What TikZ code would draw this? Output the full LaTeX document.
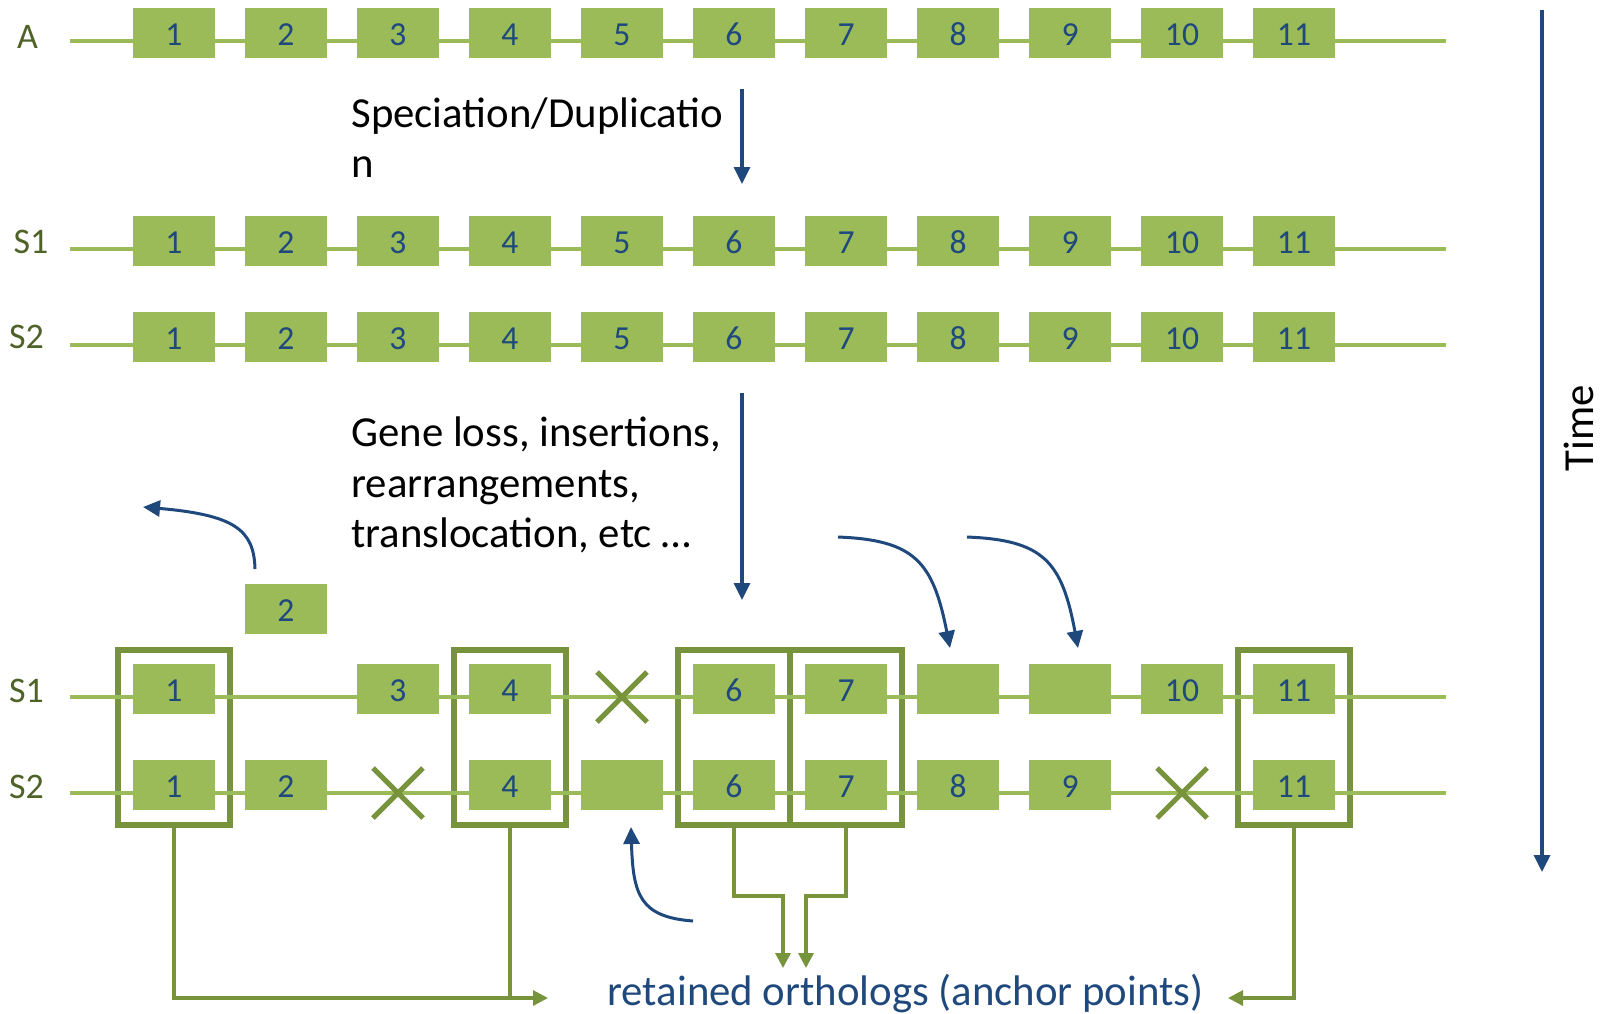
\documentclass[tikz,border=0pt]{standalone}
\usepackage{fontspec}
\setmainfont{Carlito}
\usetikzlibrary{arrows.meta,shapes.misc}

\definecolor{genefill}{RGB}{155,187,89}
\definecolor{framegreen}{RGB}{119,147,60}
\definecolor{numblue}{RGB}{31,73,125}
\definecolor{labelgreen}{RGB}{79,98,40}
\definecolor{arrowblue}{RGB}{31,73,125}

\begin{document}
\begin{tikzpicture}[x=0.5pt,y=-0.5pt,
  gene/.style={fill=genefill, minimum width=41pt, minimum height=25pt,
    inner sep=0pt, outer sep=0pt, text=numblue,
    font=\fontsize{16.8}{20}\selectfont, text height=12.8pt, text depth=0pt},
  chrom/.style={genefill, line width=2.2pt},
  pairframe/.style={draw=framegreen, line width=2.75pt, minimum width=56pt,
    minimum height=87.5pt, inner sep=0pt, outer sep=0pt},
  lostmark/.style={cross out, draw=framegreen, line width=2.5pt,
    minimum size=25pt, inner sep=0pt, outer sep=0pt},
  rowlabel/.style={text=labelgreen, font=\fontsize{18}{21}\selectfont,
    inner sep=0pt, anchor=base},
  note/.style={font=\fontsize{21.4}{25}\selectfont, inner sep=0pt, anchor=base west},
  event/.style={arrowblue, line width=1.6pt, -{Triangle[width=8pt,length=8.5pt]}},
  anchorlink/.style={framegreen, line width=1.6pt},
  anchorarrow/.style={anchorlink, -{Triangle[width=7.5pt,length=7.5pt]}},
]
\useasboundingbox (0,0) rectangle (1604,1013);

% ---------- ancestral genome A and the two copies S1, S2 ----------
\foreach \r/\y in {a/41, p/249, q/345} {
  \coordinate (\r L) at (70,\y);
  \coordinate (\r R) at (1446,\y);
  \draw[chrom] (\r L) -- (\r R);
  \foreach \i in {1,...,11}
    \node[gene] (\r\i) at ({174+112*(\i-1)},\y-8) {\i};
}

\node[rowlabel] (labA)  at (27.5,48) {A};
\node[rowlabel] (labS1) at (31,253) {S1};
\node[rowlabel] (labS2) at (26.5,348) {S2};

% ---------- speciation / duplication ----------
\node[note] (spec1) at (351,127) {Speciation/Duplicatio};
\node[note] (spec2) at (351,177) {n};
\coordinate (specTop) at (742,89);
\coordinate (specEnd) at (742,184);
\draw[event] (specTop) -- (specEnd);

% ---------- later events ----------
\node[note] (ev1) at (351,446) {Gene loss, insertions,};
\node[note] (ev2) at (351,497) {rearrangements,};
\node[note] (ev3) at (351,547) {translocation, etc \dots};
\coordinate (evTop) at (742,393);
\coordinate (evEnd) at (742,600);
\draw[event] (evTop) -- (evEnd);

% ---------- frames around retained orthologs ----------
\foreach \i in {1,4,6,7,11}
  \node[pairframe] (fr\i) at ({174+112*(\i-1)},737.5) {};

% ---------- evolved chromosomes ----------
\foreach \r/\y in {r/697, s/793} {
  \coordinate (\r L) at (70,\y);
  \coordinate (\r R) at (1446,\y);
  \draw[chrom] (\r L) -- (\r R);
}
\foreach \i/\t in {1/1,3/3,4/4,6/6,7/7,8/,9/,10/10,11/11}
  \node[gene] (r\i) at ({174+112*(\i-1)},689) {\t};
\foreach \i/\t in {1/1,2/2,4/4,5/,6/6,7/7,8/8,9/9,11/11}
  \node[gene] (s\i) at ({174+112*(\i-1)},785) {\t};
\node[gene] (moved2) at (286,609) {2};

\node[lostmark] (lossA) at (622,697) {};
\node[lostmark] (lossB) at (398,793) {};
\node[lostmark] (lossC) at (1182,793) {};

\node[rowlabel] (labR1) at (26.5,702) {S1};
\node[rowlabel] (labR2) at (26.5,798) {S2};

% ---------- rearrangement arrows ----------
\coordinate (mvStart) at (255,569);
\coordinate (mvEnd) at (143,507);
\draw[event, line width=1.5pt] (mvStart) .. controls (254,530) and (235,515) .. (mvEnd);

\coordinate (ins8a) at (838,537);
\coordinate (ins8b) at (950,648);
\draw[event, line width=1.5pt] (ins8a) .. controls (915,540) and (933,562) .. (ins8b);
\coordinate (ins9a) at (967,537);
\coordinate (ins9b) at (1078,648);
\draw[event, line width=1.5pt] (ins9a) .. controls (1044,540) and (1062,562) .. (ins9b);

\coordinate (ins5a) at (693,921);
\coordinate (ins5b) at (631,827);
\draw[event, line width=1.5pt] (ins5a) .. controls (640,917) and (633,895) .. (ins5b);

% ---------- anchor points ----------
\node[note, text=numblue] (anchors) at (607,1005) {retained orthologs (anchor points)};

\coordinate (joinL) at (548,998);
\draw[anchorarrow] (fr1.south) |- (joinL);
\draw[anchorlink] (fr4.south) -- (fr4.south |- joinL);

\coordinate (bend6) at (783,896);
\coordinate (tip6) at (783,968);
\draw[anchorarrow] (fr6.south) |- (bend6) -- (tip6);
\coordinate (bend7) at (806,896);
\coordinate (tip7) at (806,968);
\draw[anchorarrow] (fr7.south) |- (bend7) -- (tip7);

\coordinate (joinR) at (1228,998);
\draw[anchorarrow] (fr11.south) |- (joinR);

% ---------- time axis ----------
\coordinate (timeTop) at (1542,10);
\coordinate (timeEnd) at (1542,872);
\draw[event, line width=1.75pt] (timeTop) -- (timeEnd);
\node[font=\fontsize{21.4}{25}\selectfont, rotate=90, inner sep=0pt] (time) at (1579,428) {Time};
\end{tikzpicture}
\end{document}
